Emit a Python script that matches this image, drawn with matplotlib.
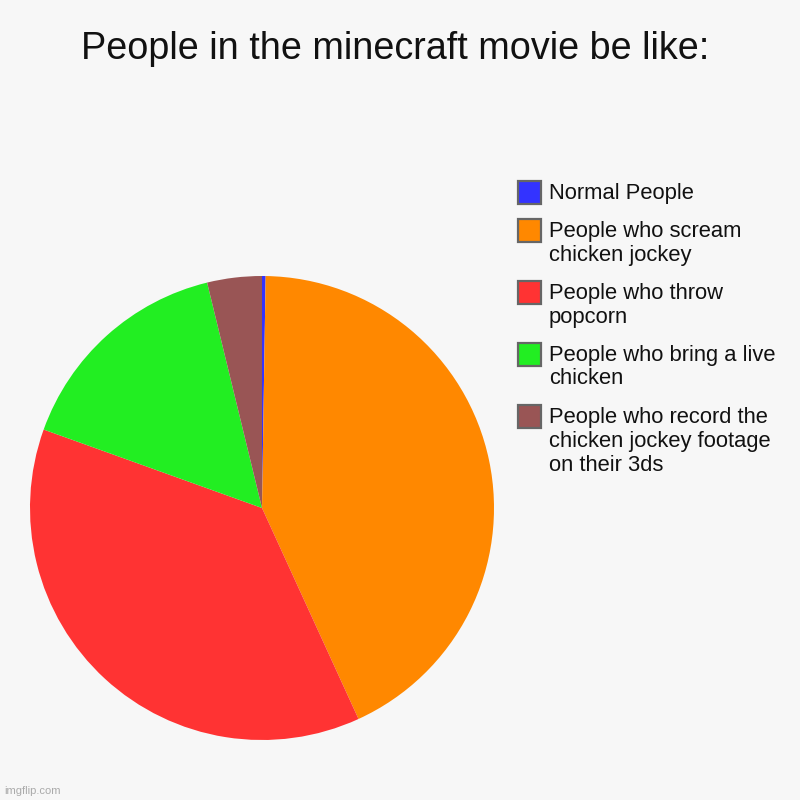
import matplotlib
matplotlib.use("Agg")
import matplotlib.pyplot as plt
from matplotlib.patches import Rectangle

title = "People in the minecraft movie be like:"
labels = [
    "Normal People",
    "People who scream\nchicken jockey",
    "People who throw\npopcorn",
    "People who bring a live\nchicken",
    "People who record the\nchicken jockey footage\non their 3ds",
]
values = [0.25, 42.9, 37.3, 15.7, 3.8]
colors = ["#3333ff", "#ff8800", "#ff3333", "#22ee22", "#995555"]

BG = "#f7f7f7"
W = H = 800.0

plt.rcParams["font.family"] = ["Liberation Sans", "DejaVu Sans"]

fig = plt.figure(figsize=(8, 8), dpi=100, facecolor=BG)

# pie axes: center (262, 508) px, radius 232 px
cx, cy, r = 262, 508, 232
ax = fig.add_axes([(cx - r) / W, 1 - (cy + r) / H, 2 * r / W, 2 * r / H])
ax.set_facecolor(BG)
ax.pie(values, colors=colors, startangle=90, counterclock=False,
       wedgeprops=dict(linewidth=0))
ax.set_xlim(-1, 1)
ax.set_ylim(-1, 1)
ax.set_aspect("equal")
ax.axis("off")

fig.text(395 / W, 1 - 59.3 / H, title, ha="center", va="baseline",
         fontsize=27.2, color="#111111")

# legend (manual)
x_box, box = 518, 23
x_text = 549
line_h = 24
gap = 14
y = 181
for lab, col in zip(labels, colors):
    fig.patches.append(Rectangle((x_box / W, 1 - (y + box) / H), box / W, box / H,
                                 transform=fig.transFigure, facecolor=col,
                                 edgecolor="#666666", linewidth=1.6))
    lines = lab.split("\n")
    for i, ln in enumerate(lines):
        fig.text(x_text / W, 1 - (y + 12 + i * line_h) / H, ln,
                 ha="left", va="center", fontsize=15.8, color="#111111")
    y += len(lines) * line_h + gap

fig.text(4 / W, 1 - 791 / H, "imgflip.com", ha="left", va="center",
         fontsize=8, color="#aaaaaa")

fig.savefig("out.png", dpi=100, facecolor=BG)
